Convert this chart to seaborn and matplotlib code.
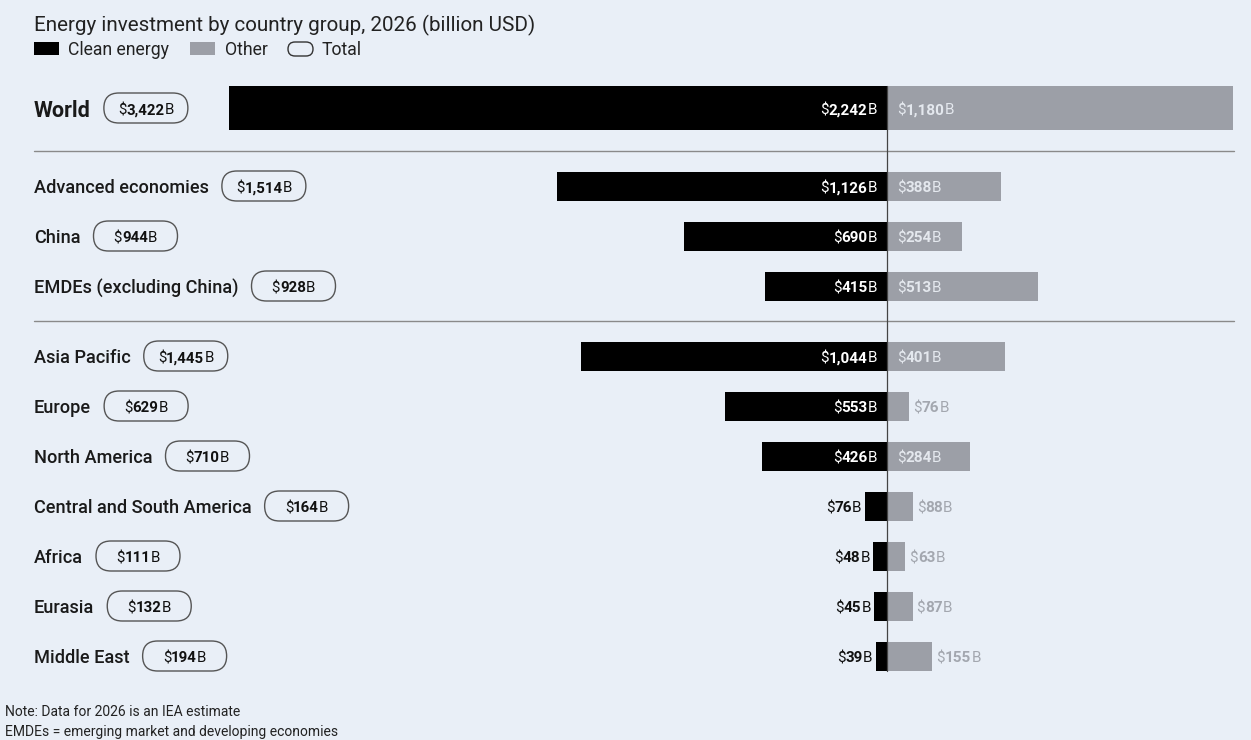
import matplotlib
matplotlib.use("Agg")
import matplotlib.pyplot as plt
import matplotlib.transforms as mtransforms
from matplotlib.patches import FancyBboxPatch, Rectangle
import seaborn as sns
import numpy as np

# ---------------- data ----------------
regions = ["World", "Advanced economies", "China", "EMDEs (excluding China)",
           "Asia Pacific", "Europe", "North America", "Central and South America",
           "Africa", "Eurasia", "Middle East"]
clean = [2242, 1126, 690, 415, 1044, 553, 426, 76, 48, 45, 39]
other = [1180, 388, 254, 513, 401, 76, 284, 88, 63, 87, 155]
total = [3422, 1514, 944, 928, 1445, 629, 710, 164, 111, 132, 194]

title = "Energy investment by country group, 2026 (billion USD)"
legend_labels = ["Clean energy", "Other", "Total"]
notes = ["Note: Data for 2026 is an IEA estimate",
         "EMDEs = emerging market and developing economies"]

# ---------------- style ----------------
BG = "#E9EFF7"
CLEAN_C = "#000000"
OTHER_C = "#9C9FA7"
TEXT_C = "#1A1A1A"

sns.set_theme(style="white", rc={"figure.facecolor": BG, "axes.facecolor": BG})
plt.rcParams["font.family"] = ["Roboto", "DejaVu Sans"]

W, H = 1251, 740
fig = plt.figure(figsize=(W / 100, H / 100), dpi=100)
fig.patch.set_facecolor(BG)
ax = fig.add_axes([0, 0, 1, 1])
ax.set_facecolor(BG)

# pixel transform (origin top-left)
T = mtransforms.Affine2D().scale(1, -1).translate(0, H)

# layout: row centres in pixels
row_y = [108, 186, 236, 286, 356, 406, 456, 506, 556, 606, 656]
zero_px = 887
px_per_b = (887 - 229) / 2242.0

# ---------------- bars (seaborn) ----------------
neg_clean = [-v for v in clean]
sns.barplot(x=neg_clean[:1], y=row_y[:1], orient="h", native_scale=True,
            width=44, color=CLEAN_C, saturation=1, errorbar=None, linewidth=0, ax=ax)
sns.barplot(x=other[:1], y=row_y[:1], orient="h", native_scale=True,
            width=44, color=OTHER_C, saturation=1, errorbar=None, linewidth=0, ax=ax)
sns.barplot(x=neg_clean[1:], y=row_y[1:], orient="h", native_scale=True,
            width=29 / 50, color=CLEAN_C, saturation=1, errorbar=None, linewidth=0, ax=ax)
sns.barplot(x=other[1:], y=row_y[1:], orient="h", native_scale=True,
            width=29 / 50, color=OTHER_C, saturation=1, errorbar=None, linewidth=0, ax=ax)

ax.set_xlim(-zero_px / px_per_b, (W - zero_px) / px_per_b)
ax.set_ylim(H, 0)
ax.axis("off")

# zero line and separators
ax.plot([0, 0], [86, 671], color="#444444", lw=0.9, zorder=5)
for ysep in (151, 321):
    ax.plot([34, 1234], [ysep, ysep], color="#8A8A8A", lw=1, transform=T, zorder=4)

fig.canvas.draw()
R = fig.canvas.get_renderer()


def px_of(v):
    """x pixel (top-left origin) of a data value"""
    return ax.transData.transform((v, 0))[0]


def base_y(yc, size):
    return yc + 0.355 * size * 100 / 72


def rich(x, yc, parts, size, ha="left"):
    texts, widths = [], []
    yb = base_y(yc, size)
    for s, w, c in parts:
        t = ax.text(0, yb, s, fontsize=size, fontweight=w, color=c,
                    ha="left", va="baseline", transform=T, zorder=10)
        widths.append(t.get_window_extent(renderer=R).width)
        texts.append(t)
    tot = sum(widths)
    start = x - tot if ha == "right" else (x - tot / 2 if ha == "center" else x)
    for t, w in zip(texts, widths):
        t.set_x(start)
        start += w
    return tot


def money(v, col, size):
    return [("$", "normal", col), (f"{v:,}", "bold", col), ("B", "normal", col)]


# ---------------- title & legend ----------------
ax.text(34, base_y(24, 14.9), title, fontsize=14.9, color="#222222",
        ha="left", va="baseline", transform=T)
ax.add_patch(Rectangle((34, 42), 25, 13, transform=T, color=CLEAN_C, lw=0))
ax.text(68, base_y(49, 12.7), legend_labels[0], fontsize=12.7, color="#222222",
        ha="left", va="baseline", transform=T)
ax.add_patch(Rectangle((190, 42), 25, 13, transform=T, color=OTHER_C, lw=0))
ax.text(225, base_y(49, 12.7), legend_labels[1], fontsize=12.7, color="#222222",
        ha="left", va="baseline", transform=T)
ax.add_patch(FancyBboxPatch((288, 42), 25, 14, boxstyle="round,pad=0,rounding_size=7",
                            transform=T, facecolor="none", edgecolor="#333333", lw=1))
ax.text(322, base_y(49, 12.7), legend_labels[2], fontsize=12.7, color="#222222",
        ha="left", va="baseline", transform=T)

# ---------------- row labels, pills, values ----------------
LAB = 11
for i, name in enumerate(regions):
    yc = row_y[i] + 1
    if i == 0:
        t = ax.text(34, base_y(yc, 15.5), name, fontsize=15.5, fontweight="bold",
                    color=TEXT_C, ha="left", va="baseline", transform=T)
    else:
        t = ax.text(34, base_y(yc, 13.1), name, fontsize=13.1, fontweight="medium",
                    color=TEXT_C, ha="left", va="baseline", transform=T)
    x_end = t.get_window_extent(renderer=R).x1
    px0 = x_end + 13
    ax.add_patch(FancyBboxPatch((px0, row_y[i] - 15), 84, 30,
                                boxstyle="round,pad=0,rounding_size=15",
                                transform=T, facecolor="none",
                                edgecolor="#555555", lw=1, zorder=6))
    rich(px0 + 42, yc, money(total[i], "#111111", 10.8), 10.8, ha="center")

    # clean label
    if clean[i] >= 200:
        rich(px_of(0) - 10, yc, money(clean[i], "white", LAB), LAB, ha="right")
    else:
        rich(px_of(-clean[i]) - 3, yc, money(clean[i], "#111111", LAB), LAB, ha="right")
    # other label
    if other[i] >= 200:
        rich(px_of(0) + 10, yc, money(other[i], "#E4E8EE", LAB), LAB, ha="left")
    else:
        rich(px_of(other[i]) + 4, yc, money(other[i], "#A3A7AF", LAB), LAB, ha="left")

# ---------------- notes ----------------
for k, (note, yc) in enumerate(zip(notes, (711, 731))):
    ax.text(5, base_y(yc, 10), note, fontsize=10, color="#222222",
            ha="left", va="baseline", transform=T)

fig.savefig("out.png", dpi=100, facecolor=BG)
